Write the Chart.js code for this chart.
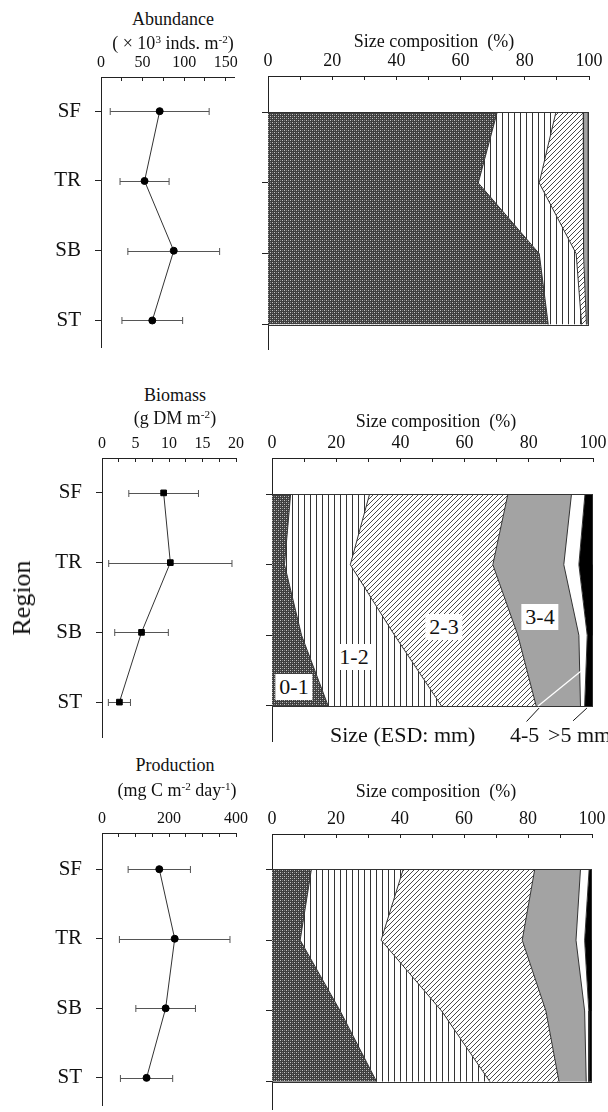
<!DOCTYPE html>
<html>
<head>
<meta charset="utf-8">
<script src="https://cdn.jsdelivr.net/npm/chart.js@4.4.0/dist/chart.umd.min.js"></script>
<style>
body { margin: 0; background: #fff; }
#wrap { position: relative; width: 608px; height: 1112px; overflow: hidden; font-family: "Liberation Serif", "Times New Roman", serif; color: #111; }
canvas { position: absolute; }
.t { position: absolute; white-space: nowrap; transform: translate(-50%, -50%); font-size: 18px; line-height: 1; }
.t sup, .l sup { font-size: 0.62em; line-height: 0; vertical-align: 0.5em; }
.l { position: absolute; white-space: nowrap; transform: translate(0, -50%); font-size: 22px; line-height: 1; }
.box { position: absolute; white-space: nowrap; transform: translate(-50%, -50%); background: #fff; font-size: 22px; line-height: 1; padding: 2px 4px; }
#region { position: absolute; left: 22px; top: 598px; transform: translate(-50%, -50%) rotate(-90deg); font-size: 26px; line-height: 1; }
</style>
</head>
<body>
<div id="wrap">
  <canvas id="abun" width="260" height="315" style="left:0;top:37px"></canvas>
  <canvas id="abunSize" width="358" height="314" style="left:250px;top:36px"></canvas>
  <canvas id="bio" width="260" height="324" style="left:0;top:418px"></canvas>
  <canvas id="bioSize" width="358" height="324" style="left:250px;top:418px"></canvas>
  <canvas id="prod" width="260" height="317" style="left:0;top:793px"></canvas>
  <canvas id="prodSize" width="358" height="316" style="left:250px;top:794px"></canvas>

  <div class="t" style="left:173px;top:19px">Abundance</div>
  <div class="t" style="left:173px;top:43px">( &times; 10<sup>3</sup> inds. m<sup>-2</sup>)</div>
  <div class="t" style="left:434px;top:41px">Size composition&nbsp; (%)</div>

  <div class="t" style="left:175px;top:395px">Biomass</div>
  <div class="t" style="left:175px;top:418px">(g DM m<sup>-2</sup>)</div>
  <div class="t" style="left:436px;top:421px">Size composition&nbsp; (%)</div>

  <div class="t" style="left:175px;top:765px">Production</div>
  <div class="t" style="left:177px;top:790px">(mg C m<sup>-2</sup> day<sup>-1</sup>)</div>
  <div class="t" style="left:436px;top:791px">Size composition&nbsp; (%)</div>

  <div id="region">Region</div>

  <div class="box" style="left:294px;top:687px">0-1</div>
  <div class="box" style="left:354px;top:657px">1-2</div>
  <div class="box" style="left:444px;top:627px">2-3</div>
  <div class="box" style="left:540px;top:617px">3-4</div>
  <div class="l" style="left:330px;top:735px">Size (ESD: mm)</div>
  <div class="l" style="left:510px;top:735px">4-5</div>
  <div class="l" style="left:548px;top:735px">&gt;5 mm</div>
</div>

<script>
var regions = ['SF', 'TR', 'SB', 'ST'];
var regionIdx = [0, 1, 2, 3];
var sizeClasses = ['0-1', '1-2', '2-3', '3-4', '4-5', '>5'];

// left panels: mean and SD per region
var abundance = [70.6, 52.4, 87.5, 61.7];
var abundanceSd = [59.5, 29.5, 55.2, 36.5];
var biomass = [9.2, 10.2, 5.9, 2.6];
var biomassSd = [5.2, 9.2, 4.0, 1.65];
var production = [171, 217, 190, 133];
var productionSd = [93, 165, 89, 78];

// size composition (%) per size class, regions SF, TR, SB, ST
var abunPct01 = [71.4, 65.5, 84.5, 87.3];
var abunPct12 = [18.3, 19.0, 11.5, 10.4];
var abunPct23 = [8.5, 13.7, 2.4, 1.5];
var abunPct34 = [1.6, 1.6, 1.4, 0.6];
var abunPct45 = [0.2, 0.2, 0.2, 0.2];
var abunPct5 = [0, 0, 0, 0];

var bioPct01 = [5.8, 3.9, 9.2, 17.5];
var bioPct12 = [24.6, 20.5, 29.0, 35.3];
var bioPct23 = [43.1, 44.4, 38.4, 29.5];
var bioPct34 = [19.8, 22.1, 19.0, 13.8];
var bioPct45 = [4.2, 4.7, 2.6, 1.3];
var bioPct5 = [2.5, 4.4, 1.8, 2.6];

var prodPct01 = [12.3, 8.8, 21.3, 32.7];
var prodPct12 = [28.7, 25.3, 31.7, 35.4];
var prodPct23 = [41.1, 44.1, 32.6, 21.6];
var prodPct34 = [14.3, 16.8, 12.1, 8.5];
var prodPct45 = [2.7, 2.7, 1.3, 0.8];
var prodPct5 = [0.9, 2.3, 1.0, 1.0];

// axis ticks and labelled ticks
var abunTicks = [0, 25, 50, 75, 100, 125, 150];
var abunLabels = [0, 50, 100, 150];
var bioTicks = [0, 2.5, 5, 7.5, 10, 12.5, 15, 17.5, 20];
var bioLabels = [0, 5, 10, 15, 20];
var prodTicks = [0, 50, 100, 150, 200, 250, 300, 350, 400];
var prodLabels = [0, 200, 400];
var pctTicks = [0, 10, 20, 30, 40, 50, 60, 70, 80, 90, 100];
var pctLabels = [0, 20, 40, 60, 80, 100];

var FONT = '"Liberation Serif", "Times New Roman", serif';
Chart.defaults.font.family = FONT;
Chart.defaults.color = '#111';

function makePattern(kind) {
  var c = document.createElement('canvas');
  var g = c.getContext('2d');
  if (kind == 'check') {
    c.width = 4; c.height = 4;
    g.fillStyle = '#3e3e3e'; g.fillRect(0, 0, 4, 4);
    g.fillStyle = '#c4c4c4'; g.fillRect(0, 0, 1, 1); g.fillRect(2, 2, 1, 1);
    g.fillStyle = '#7c7c7c'; g.fillRect(2, 0, 1, 1); g.fillRect(0, 2, 1, 1);
  } else if (kind == 'vert') {
    c.width = 6; c.height = 2;
    g.fillStyle = '#fff'; g.fillRect(0, 0, 6, 2);
    g.fillStyle = '#333'; g.fillRect(0, 0, 1, 2);
  } else {
    c.width = 5; c.height = 5;
    g.fillStyle = '#fff'; g.fillRect(0, 0, 5, 5);
    g.strokeStyle = '#333'; g.lineWidth = 0.9;
    g.beginPath();
    g.moveTo(0, 5); g.lineTo(5, 0);
    g.moveTo(-1, 1); g.lineTo(1, -1);
    g.moveTo(4, 6); g.lineTo(6, 4);
    g.stroke();
  }
  return g.createPattern(c, 'repeat');
}

var fills = [makePattern('check'), makePattern('vert'), makePattern('diag'), '#a3a3a3', '#ffffff', '#000000'];

function cumulative(rows) {
  var out = [];
  var run = [0, 0, 0, 0];
  rows.forEach(function(r) {
    run = run.map(function(v, i) { return v + r[i]; });
    out.push(run.slice());
  });
  return out;
}

function xAxis(max, ticks, labels, size, pad) {
  return {
    type: 'linear', position: 'top', min: 0, max: max, bounds: 'data',
    afterBuildTicks: function(s) { s.ticks = ticks.map(function(v) { return {value: v}; }); },
    afterFit: function(s) { s.height = 40; s.paddingLeft = 0; s.paddingRight = 0; },
    ticks: {
      autoSkip: false, maxRotation: 0, padding: pad, color: '#111', font: {size: size},
      callback: function(v) { return labels.indexOf(v) >= 0 ? String(v) : ''; }
    },
    grid: { drawOnChartArea: false, drawTicks: true, tickLength: -4, color: '#222', lineWidth: 1 },
    border: { color: '#222', width: 1 }
  };
}

function yAxis(min, max, width, showLabels) {
  return {
    type: 'linear', reverse: true, min: min, max: max, bounds: 'data',
    afterBuildTicks: function(s) { s.ticks = regionIdx.map(function(v) { return {value: v}; }); },
    afterFit: function(s) { s.width = width; s.paddingTop = 0; s.paddingBottom = 0; },
    ticks: {
      display: showLabels, autoSkip: false, padding: 14, color: '#111', font: {size: 21},
      callback: function(v) { return regions[v]; }
    },
    grid: { drawOnChartArea: false, drawTicks: true, tickLength: 6, color: '#222', lineWidth: 1 },
    border: { color: '#222', width: 1 }
  };
}

function errorBars(means, sds) {
  return {
    id: 'errbars',
    beforeDatasetsDraw: function(chart) {
      var ctx = chart.ctx, xs = chart.scales.x, ys = chart.scales.y;
      ctx.save();
      ctx.strokeStyle = '#555';
      ctx.lineWidth = 1;
      ctx.beginPath();
      for (var i = 0; i < means.length; i++) {
        var y = Math.round(ys.getPixelForValue(regionIdx[i])) + 0.5;
        var x1 = xs.getPixelForValue(means[i] - sds[i]);
        var x2 = xs.getPixelForValue(means[i] + sds[i]);
        ctx.moveTo(x1, y); ctx.lineTo(x2, y);
        ctx.moveTo(x1, y - 3.5); ctx.lineTo(x1, y + 3.5);
        ctx.moveTo(x2, y - 3.5); ctx.lineTo(x2, y + 3.5);
      }
      ctx.stroke();
      ctx.restore();
    }
  };
}

var edges = {
  id: 'edges',
  afterDatasetsDraw: function(chart) {
    var ctx = chart.ctx, xs = chart.scales.x, ys = chart.scales.y;
    var x0 = xs.getPixelForValue(0), x1 = xs.getPixelForValue(100);
    ctx.save();
    ctx.strokeStyle = '#333';
    ctx.lineWidth = 1;
    ctx.beginPath();
    [regionIdx[0], regionIdx[3]].forEach(function(v) {
      var y = Math.round(ys.getPixelForValue(v)) + 0.5;
      ctx.moveTo(x0, y); ctx.lineTo(x1, y);
    });
    ctx.stroke();
    ctx.restore();
  }
};

// pointer lines for the 4-5 and >5 labels, in data units (x %, y region index)
var leaders = {
  id: 'leaders',
  afterDatasetsDraw: function(chart) {
    var ctx = chart.ctx, xs = chart.scales.x, ys = chart.scales.y;
    function seg(color, a, b) {
      ctx.strokeStyle = color;
      ctx.beginPath();
      ctx.moveTo(xs.getPixelForValue(a[0]), ys.getPixelForValue(a[1]));
      ctx.lineTo(xs.getPixelForValue(b[0]), ys.getPixelForValue(b[1]));
      ctx.stroke();
    }
    ctx.save();
    ctx.lineWidth = 1.3;
    seg('#fff', [96.4, 2.5], [82.9, 3.0]);
    ctx.lineWidth = 1;
    seg('#111', [83.2, 3.03], [79.3, 3.22]);
    seg('#111', [98.1, 3.03], [93.8, 3.21]);
    ctx.restore();
  }
};

function makeLeft(id, means, sds, max, ticks, labels, yMin, yMax, yWidth, padRight, shape) {
  return new Chart(document.getElementById(id), {
    type: 'line',
    data: {
      datasets: [{
        data: regionIdx.map(function(y, i) { return {x: means[i], y: y}; }),
        borderColor: '#333', borderWidth: 1, tension: 0, fill: false,
        pointStyle: shape, pointRadius: shape == 'rect' ? 4 : 3.5,
        pointBackgroundColor: '#000', pointBorderColor: '#000', pointBorderWidth: 1
      }]
    },
    options: {
      indexAxis: 'y', responsive: false, animation: false, events: [],
      layout: { padding: {left: 0, top: 0, right: padRight, bottom: 0} },
      plugins: { legend: {display: false}, tooltip: {enabled: false} },
      scales: { x: xAxis(max, ticks, labels, 16, 9), y: yAxis(yMin, yMax, yWidth, true) }
    },
    plugins: [errorBars(means, sds)]
  });
}

function makeRight(id, rows, yMin, yMax, yWidth, padRight, extra) {
  var cum = cumulative(rows);
  var datasets = cum.map(function(vals, k) {
    return {
      label: sizeClasses[k],
      data: regionIdx.map(function(y, i) { return {x: vals[i], y: y}; }),
      backgroundColor: fills[k],
      borderColor: '#333', borderWidth: 1,
      pointRadius: 0, tension: 0,
      fill: k === 0 ? {value: 0} : '-1'
    };
  });
  var plugins = [edges];
  if (extra) plugins.push(extra);
  return new Chart(document.getElementById(id), {
    type: 'line',
    data: { datasets: datasets },
    options: {
      indexAxis: 'y', responsive: false, animation: false, events: [],
      layout: { padding: {left: 0, top: 0, right: padRight, bottom: 0} },
      plugins: { legend: {display: false}, tooltip: {enabled: false} },
      scales: { x: xAxis(100, pctTicks, pctLabels, 18, 8), y: yAxis(yMin, yMax, yWidth, false) }
    },
    plugins: plugins
  });
}

makeLeft('abun', abundance, abundanceSd, 160, abunTicks, abunLabels, -0.49, 3.38, 101, 26, 'circle');
makeLeft('bio', biomass, biomassSd, 20, bioTicks, bioLabels, -0.5, 3.5, 102, 24, 'rect');
makeLeft('prod', production, productionSd, 400, prodTicks, prodLabels, -0.52, 3.39, 102, 24, 'circle');

makeRight('abunSize', [abunPct01, abunPct12, abunPct23, abunPct34, abunPct45, abunPct5], -0.51, 3.36, 18, 19, null);
makeRight('bioSize', [bioPct01, bioPct12, bioPct23, bioPct34, bioPct45, bioPct5], -0.51, 3.51, 22, 15, leaders);
makeRight('prodSize', [prodPct01, prodPct12, prodPct23, prodPct34, prodPct45, prodPct5], -0.5, 3.4, 22, 16, null);
</script>
</body>
</html>
